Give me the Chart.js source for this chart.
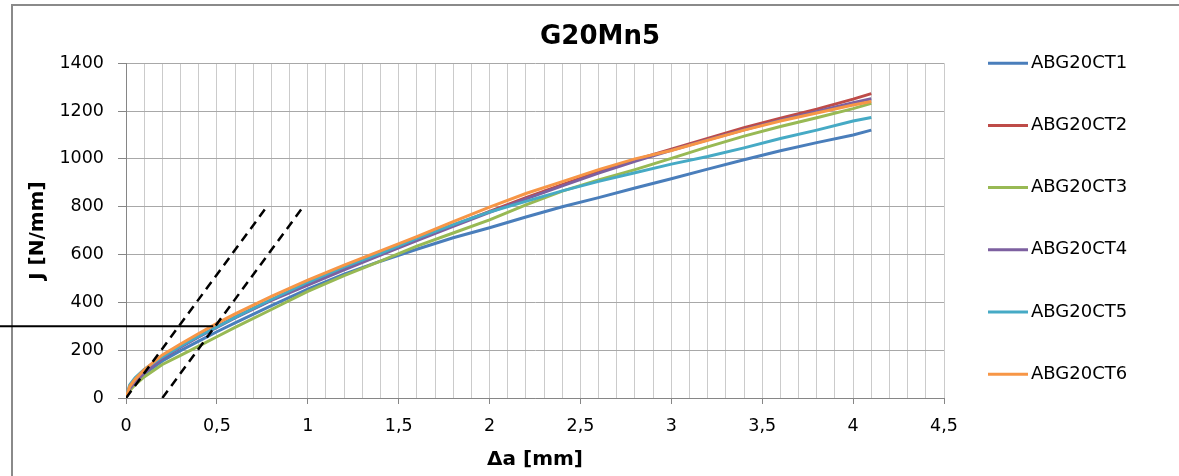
<!DOCTYPE html>
<html>
<head>
<meta charset="utf-8">
<title>G20Mn5</title>
<script src="https://cdn.jsdelivr.net/npm/chart.js@4.4.0/dist/chart.umd.min.js"></script>
<style>
  html, body { margin: 0; padding: 0; background: #fff; overflow: hidden; }
  canvas { display: block; }
</style>
</head>
<body>
<canvas id="chart" width="1179" height="476"></canvas>
<script>
// crack extension in mm, shared by all six specimens
const deltaA = [0, 0.02, 0.05, 0.1, 0.2, 0.3, 0.4, 0.5, 0.6, 0.8, 1.0, 1.2, 1.4, 1.6, 1.8, 2.0, 2.2, 2.4, 2.6, 2.8, 3.0, 3.2, 3.4, 3.6, 3.8, 4.0, 4.1];

// J in N/mm
const ct1 = [0, 42, 68, 100, 155, 198, 238, 277, 314, 386, 455, 518, 572, 622, 670, 712, 757, 800, 838, 878, 917, 957, 996, 1034, 1068, 1100, 1120];
const ct2 = [0, 40, 70, 108, 168, 215, 258, 298, 338, 410, 478, 540, 602, 662, 722, 780, 838, 892, 945, 995, 1040, 1085, 1130, 1170, 1208, 1250, 1273];
const ct3 = [0, 30, 55, 88, 140, 178, 217, 256, 295, 370, 446, 512, 572, 635, 690, 745, 808, 865, 912, 955, 1002, 1050, 1095, 1135, 1172, 1210, 1232];
const ct4 = [0, 38, 66, 104, 165, 212, 255, 295, 335, 408, 472, 536, 598, 658, 718, 776, 833, 887, 940, 990, 1036, 1080, 1122, 1162, 1198, 1235, 1251];
const ct5 = [0, 55, 85, 120, 172, 217, 258, 297, 337, 412, 484, 548, 605, 668, 725, 778, 822, 866, 906, 942, 978, 1010, 1046, 1085, 1120, 1158, 1173];
const ct6 = [0, 48, 78, 118, 180, 226, 270, 312, 352, 425, 493, 556, 615, 675, 738, 798, 855, 905, 955, 1000, 1035, 1078, 1120, 1158, 1192, 1225, 1240];

const seriesNames = ["ABG20CT1", "ABG20CT2", "ABG20CT3", "ABG20CT4", "ABG20CT5", "ABG20CT6"];
const seriesColors = ["#4a7ebb", "#be4b48", "#98b954", "#7d60a0", "#46aac5", "#f79646"];

// blunting line and its 0.2 mm offset
const bluntX = [0, 0.775];
const bluntJ = [0, 800];
const offsetX = [0.2, 0.975];
const offsetJ = [0, 800];

// J value where the offset line meets the curves
const markJ = 300;
const markEndX = 0.48;

const allSeries = [ct1, ct2, ct3, ct4, ct5, ct6];

function points(xs, ys) {
  return xs.map((x, i) => ({ x: x, y: ys[i] }));
}

function isHalf(v) {
  return Math.abs(v * 2 - Math.round(v * 2)) < 1e-6;
}

const curves = allSeries.map((ys, i) => ({
  label: seriesNames[i],
  data: points(deltaA, ys),
  borderColor: seriesColors[i],
  backgroundColor: seriesColors[i],
  borderWidth: 3,
  pointRadius: 0,
  tension: 0,
  order: allSeries.length - 1 - i,
}));

function dashedLine(xs, ys) {
  return {
    label: "",
    data: points(xs, ys),
    borderColor: "#000",
    borderWidth: 2.5,
    borderDash: [9, 6],
    pointRadius: 0,
    order: -1,
  };
}

// legend column on the right, added as a layout box so the title stays centred
function legendBox(chart) {
  return {
    position: "right",
    weight: 0,
    fullSize: false,
    options: {},
    left: 0, top: 0, right: 0, bottom: 0, width: 0, height: 0,
    isHorizontal() { return false; },
    update(maxWidth, maxHeight) {
      this.width = 235;
      this.height = maxHeight;
    },
    draw() {
      const ctx = chart.ctx;
      const top = chart.chartArea.top;
      ctx.save();
      ctx.font = "18px 'DejaVu Sans'";
      ctx.textBaseline = "middle";
      ctx.textAlign = "left";
      ctx.fillStyle = "#000";
      seriesNames.forEach((name, i) => {
        const y = top + i * 62.2;
        ctx.strokeStyle = seriesColors[i];
        ctx.lineWidth = 3;
        ctx.beginPath();
        ctx.moveTo(this.left + 44, y);
        ctx.lineTo(this.left + 84, y);
        ctx.stroke();
        ctx.fillText(name, this.left + 87, y);
      });
      ctx.restore();
    },
  };
}

const extras = {
  id: "extras",
  beforeInit(chart) {
    Chart.layouts.addBox(chart, legendBox(chart));
  },
  beforeDraw(chart) {
    const ctx = chart.ctx;
    ctx.save();
    ctx.fillStyle = "#fff";
    ctx.fillRect(0, 0, chart.width, chart.height);
    // outer frame, open to the right and bottom
    ctx.strokeStyle = "#8a8a8a";
    ctx.lineWidth = 2;
    ctx.beginPath();
    ctx.moveTo(12, chart.height + 10);
    ctx.lineTo(12, 5);
    ctx.lineTo(chart.width + 10, 5);
    ctx.stroke();
    ctx.restore();
  },
  afterDatasetsDraw(chart) {
    const { ctx, scales } = chart;
    const y = scales.y.getPixelForValue(markJ);
    ctx.save();
    ctx.strokeStyle = "#000";
    ctx.lineWidth = 2;
    ctx.beginPath();
    ctx.moveTo(0, y);
    ctx.lineTo(scales.x.getPixelForValue(markEndX), y);
    ctx.stroke();
    ctx.restore();
  },
};

Chart.defaults.font.family = "'DejaVu Sans', sans-serif";
Chart.defaults.color = "#000";

new Chart(document.getElementById("chart"), {
  type: "line",
  data: {
    datasets: curves.concat([dashedLine(bluntX, bluntJ), dashedLine(offsetX, offsetJ)]),
  },
  plugins: [extras],
  options: {
    responsive: false,
    animation: false,
    layout: { padding: { left: 21, right: 0, top: 0, bottom: 0 } },
    plugins: {
      legend: { display: false },
      tooltip: { enabled: false },
      title: {
        display: true,
        text: "G20Mn5",
        color: "#000",
        font: { size: 26, weight: "bold" },
        padding: { top: 22, bottom: 10 },
      },
    },
    scales: {
      x: {
        type: "linear",
        min: 0,
        max: 4.5,
        afterFit(scale) { scale.height = 78; },
        ticks: {
          stepSize: 0.1,
          autoSkip: false,
          maxRotation: 0,
          padding: 12,
          color: "#000",
          font: { size: 17.5 },
          callback: (v) => (isHalf(v) ? String(+v.toFixed(1)).replace(".", ",") : ""),
        },
        grid: {
          color: "#cbcbcb",
          tickLength: 6,
          tickColor: (ctx) => (ctx.tick && isHalf(ctx.tick.value) ? "#868686" : "rgba(0,0,0,0)"),
        },
        border: { color: "#868686", width: 1 },
        title: {
          display: true,
          text: "Δa [mm]",
          color: "#000",
          font: { size: 20, weight: "bold" },
          padding: { top: 0, bottom: 4 },
        },
      },
      y: {
        type: "linear",
        min: 0,
        max: 1400,
        afterFit(scale) { scale.width = 105; },
        ticks: {
          stepSize: 200,
          padding: 14,
          color: "#000",
          font: { size: 17.5 },
          callback: (v) => String(v),
        },
        grid: { color: "#a8a8a8", tickLength: 8, tickColor: "#868686" },
        border: { color: "#868686", width: 1 },
        title: {
          display: true,
          text: "J [N/mm]",
          color: "#000",
          font: { size: 20, weight: "bold" },
          padding: { top: 5, bottom: 0 },
        },
      },
    },
  },
});
</script>
</body>
</html>
